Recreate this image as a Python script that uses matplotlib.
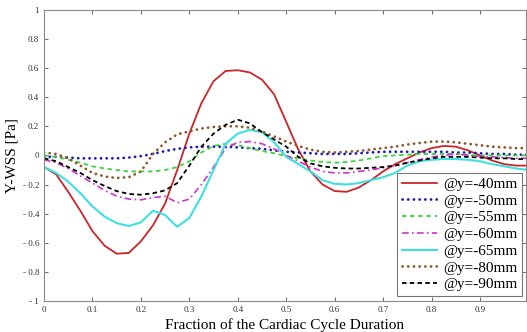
import matplotlib
matplotlib.use('Agg')
import matplotlib.pyplot as plt
import numpy as np

plt.rcParams['font.family'] = ['Liberation Serif', 'DejaVu Serif']

# fraction of cardiac cycle (sampling)
frac = [0, .025, .05, .075, .1, .125, .15, .175, .2, .225, .25, .275, .3, .325,
        .35, .375, .4, .425, .45, .475, .5, .525, .55, .575, .6, .625, .65,
        .675, .7, .725, .75, .775, .8, .825, .85, .875, .9, .925, .95, .975, 1.0]

wss_40 = [-0.08, -0.13, -0.25, -0.38, -0.52, -0.62, -0.675, -0.67, -0.59, -0.48,
          -0.33, -0.10, 0.15, 0.36, 0.51, 0.58, 0.585, 0.57, 0.52, 0.42, 0.23,
          0.04, -0.11, -0.2, -0.245, -0.25, -0.22, -0.17, -0.11, -0.06, -0.02,
          0.02, 0.05, 0.065, 0.06, 0.035, 0.0, -0.035, -0.06, -0.07, -0.07]
wss_50 = [-0.01, -0.01, -0.015, -0.02, -0.02, -0.02, -0.02, -0.015, -0.005, 0.01,
          0.03, 0.045, 0.055, 0.06, 0.06, 0.06, 0.055, 0.05, 0.045, 0.035, 0.025,
          0.02, 0.015, 0.01, 0.01, 0.01, 0.015, 0.02, 0.025, 0.025, 0.025, 0.025,
          0.025, 0.025, 0.02, 0.02, 0.015, 0.01, 0.01, 0.005, 0.005]
wss_55 = [0.0, -0.01, -0.03, -0.05, -0.075, -0.09, -0.1, -0.11, -0.11, -0.11,
          -0.1, -0.08, -0.04, 0.02, 0.065, 0.08, 0.07, 0.05, 0.03, 0.015, -0.005,
          -0.02, -0.035, -0.045, -0.05, -0.045, -0.035, -0.02, -0.005, 0.0, 0.005,
          0.01, 0.01, 0.01, 0.01, 0.005, 0.0, 0.0, 0.0, 0.0, 0.0]
wss_60 = [-0.03, -0.05, -0.09, -0.14, -0.19, -0.24, -0.28, -0.3, -0.305, -0.29,
          -0.28, -0.325, -0.3, -0.2, -0.08, 0.05, 0.09, 0.095, 0.08, 0.045, 0.0,
          -0.04, -0.08, -0.11, -0.12, -0.12, -0.11, -0.1, -0.085, -0.07, -0.05,
          -0.03, -0.01, 0.0, 0.01, 0.0, -0.005, -0.01, -0.015, -0.02, -0.02]
wss_65 = [-0.08, -0.12, -0.18, -0.26, -0.35, -0.42, -0.465, -0.485, -0.46, -0.38,
          -0.41, -0.49, -0.43, -0.28, -0.1, 0.08, 0.15, 0.175, 0.16, 0.09, -0.01,
          -0.06, -0.11, -0.17, -0.195, -0.2, -0.19, -0.17, -0.15, -0.12, -0.07,
          -0.04, -0.03, -0.025, -0.025, -0.03, -0.04, -0.06, -0.075, -0.09, -0.1]
wss_80 = [0.02, 0.01, -0.02, -0.07, -0.12, -0.145, -0.155, -0.15, -0.11, 0.01,
          0.09, 0.145, 0.165, 0.185, 0.195, 0.2, 0.2, 0.19, 0.165, 0.13, 0.095,
          0.065, 0.04, 0.025, 0.02, 0.025, 0.03, 0.04, 0.05, 0.06, 0.075, 0.085,
          0.095, 0.095, 0.09, 0.08, 0.07, 0.06, 0.055, 0.05, 0.05]
wss_90 = [-0.02, -0.04, -0.08, -0.12, -0.17, -0.21, -0.245, -0.265, -0.27, -0.26,
          -0.24, -0.19, -0.07, 0.06, 0.15, 0.21, 0.245, 0.22, 0.16, 0.11, 0.06,
          -0.01, -0.055, -0.075, -0.085, -0.09, -0.09, -0.085, -0.08, -0.07,
          -0.05, -0.035, -0.02, -0.01, -0.01, -0.01, -0.015, -0.02, -0.02,
          -0.025, -0.025]

labels = ['@y=-40mm', '@y=-50mm', '@y=-55mm', '@y=-60mm',
          '@y=-65mm', '@y=-80mm', '@y=-90mm']

xticks = [0, 0.1, 0.2, 0.3, 0.4, 0.5, 0.6, 0.7, 0.8, 0.9]
yticks = [-1, -0.8, -0.6, -0.4, -0.2, 0, 0.2, 0.4, 0.6, 0.8, 1]

fig = plt.figure(figsize=(5.27, 3.32), dpi=100)
ax = fig.add_axes([0.0835, 0.0934, 0.9146, 0.877])

dots = (0, (0.05, 2.0))
ax.plot(frac, wss_40, color='#c8262a', lw=1.3, ls='-', label=labels[0])
ax.plot(frac, wss_50, color='#1c1cb4', lw=2.0, ls=dots,
        dash_capstyle='round', label=labels[1])
ax.plot(frac, wss_55, color='#3fd23f', lw=1.3, ls=(0, (2.5, 2)), label=labels[2])
ax.plot(frac, wss_60, color='#cc33cc', lw=1.2, ls=(0, (4, 2, 1, 2)), label=labels[3])
ax.plot(frac, wss_65, color='#3ee0e0', lw=1.5, ls='-', label=labels[4])
ax.plot(frac, wss_80, color='#8b5a2b', lw=2.0, ls=dots,
        dash_capstyle='round', label=labels[5])
ax.plot(frac, wss_90, color='black', lw=1.3, ls=(0, (2.5, 1.8)), label=labels[6])

ax.set_xlim(0, 0.995)
ax.set_ylim(-1, 1)
ax.set_xticks(xticks)
ax.set_xticklabels([('%g' % t) for t in xticks])
ax.set_yticks(yticks)
ax.set_yticklabels([('- %g' % -t) if t < 0 else ('%g' % t) for t in yticks])
ax.tick_params(direction='in', length=3, width=0.6, labelsize=6.5,
               top=True, right=True, colors='#555555', labelcolor='#333333')
for s in ax.spines.values():
    s.set_color('#888888')
    s.set_linewidth(0.8)

ax.set_ylabel('Y-WSS [Pa]', fontsize=11, labelpad=3)
ax.set_xlabel('Fraction of the Cardiac Cycle Duration', fontsize=11, labelpad=3)

leg = ax.legend(loc='lower right', bbox_to_anchor=(0.992, 0.017), borderaxespad=0,
                fontsize=11, fancybox=False, framealpha=1, edgecolor='#777777',
                handlelength=2.3, handletextpad=0.4, labelspacing=0.2,
                borderpad=0.3)
leg.get_frame().set_linewidth(0.8)

fig.savefig('out.png', dpi=100)
